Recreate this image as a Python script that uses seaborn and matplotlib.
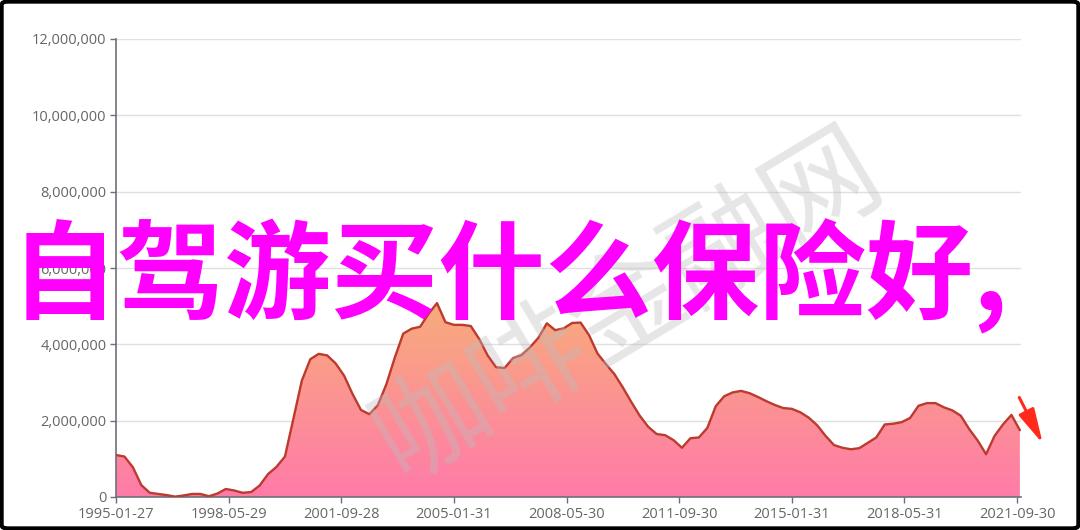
import numpy as np
import pandas as pd
import seaborn as sns
import matplotlib.pyplot as plt
from matplotlib.colors import LinearSegmentedColormap
from matplotlib.patches import FancyArrowPatch, FancyBboxPatch
from matplotlib.ticker import FuncFormatter

# values in millions, one per quarter starting 1995-01
values_m = [1.10, 1.06, 0.78, 0.31, 0.11, 0.08, 0.05, 0.01, 0.04, 0.08,
            0.08, 0.02, 0.09, 0.21, 0.17, 0.11, 0.13, 0.30, 0.60, 0.79,
            1.06, 2.05, 3.05, 3.61, 3.75, 3.71, 3.50, 3.18, 2.70, 2.28,
            2.17, 2.41, 2.95, 3.65, 4.28, 4.41, 4.46, 4.80, 5.08, 4.58,
            4.51, 4.51, 4.48, 4.14, 3.71, 3.40, 3.38, 3.64, 3.72, 3.92,
            4.17, 4.55, 4.37, 4.42, 4.56, 4.57, 4.24, 3.76, 3.48, 3.22,
            2.87, 2.49, 2.13, 1.84, 1.65, 1.62, 1.49, 1.29, 1.54, 1.56,
            1.81, 2.38, 2.64, 2.74, 2.78, 2.72, 2.62, 2.51, 2.41, 2.33,
            2.31, 2.22, 2.08, 1.88, 1.60, 1.36, 1.29, 1.25, 1.28, 1.42,
            1.56, 1.90, 1.92, 1.96, 2.07, 2.39, 2.46, 2.46, 2.35, 2.27,
            2.13, 1.78, 1.48, 1.12, 1.60, 1.90, 2.15, 1.75]

tick_labels = ['1995-01-27', '1998-05-29', '2001-09-28', '2005-01-31', '2008-05-30',
               '2011-09-30', '2015-01-31', '2018-05-31', '2021-09-30']
y_ticks = [0, 2000000, 4000000, 6000000, 8000000, 10000000, 12000000]

title_text = '自驾游买什么保险好,'
watermark = '咖啡金融网'

months = np.arange(len(values_m)) * 3
df = pd.DataFrame({'month': months, 'value': np.array(values_m) * 1e6})

sns.set_theme(style="white")
plt.rcParams['font.family'] = ['Open Sans', 'Noto Sans CJK SC', 'DejaVu Sans']

fig = plt.figure(figsize=(10.8, 5.3), dpi=100)
ax = fig.add_axes([116 / 1080, 1 - 497 / 530, (1021 - 116) / 1080, (497 - 39) / 530])

sns.lineplot(data=df, x='month', y='value', ax=ax, color='#BC3A2E', lw=1.7, zorder=4)

# gradient area under the line
fill = ax.fill_between(df['month'], df['value'], 0, facecolor='none', edgecolor='none')
grad = np.linspace(0, 1, 256).reshape(-1, 1)
cmap = LinearSegmentedColormap.from_list('area', ['#FF7BA9', '#F8AB7C'])
im = ax.imshow(grad, extent=[months[0], months[-1], 0, df['value'].max()],
               origin='lower', aspect='auto', cmap=cmap, zorder=2)
im.set_clip_path(fill.get_paths()[0], transform=ax.transData)

ax.set_xlim(0, 321.4)
ax.set_ylim(0, 12e6)
ax.set_xticks(np.arange(len(tick_labels)) * 40, tick_labels)
ax.set_yticks(y_ticks)
ax.yaxis.set_major_formatter(FuncFormatter(lambda v, p: f'{v:,.0f}'))
ax.set_xlabel('')
ax.set_ylabel('')

ax.yaxis.grid(True, color='#E0E0E0', lw=1)
ax.xaxis.grid(False)
ax.set_axisbelow(True)
for s in ['top', 'right']:
    ax.spines[s].set_visible(False)
for s in ['left', 'bottom']:
    ax.spines[s].set_color('#6E7079')
    ax.spines[s].set_linewidth(1.2)
ax.tick_params(axis='both', bottom=True, left=True, colors='#6E7079', labelcolor='#666666',
               labelsize=10.5, length=4, width=1, pad=3)

# overlays
fig.text(628 / 1080, 1 - 305 / 530, watermark, rotation=31, fontsize=82, color='#BDBDBD',
         alpha=0.38, ha='center', va='center', family=['Noto Sans CJK SC', 'DejaVu Sans'], zorder=5)
fig.text(11 / 1080, 1 - 276 / 530, title_text, color='#FF00FF', fontsize=77, fontweight='bold',
         ha='left', va='center', family=['Noto Sans CJK SC', 'DejaVu Sans'], zorder=10)

fig.add_artist(FancyArrowPatch((1018 / 1080, 1 - 395 / 530), (1044 / 1080, 1 - 446 / 530),
                               transform=fig.transFigure, arrowstyle='-|>,head_length=0.7,head_width=0.17',
                               color='#FF2A1A', lw=2.2, mutation_scale=30))
fig.add_artist(FancyBboxPatch((0.0015, 0.003), 0.997, 0.994, boxstyle='round,pad=0,rounding_size=0.006',
                              transform=fig.transFigure, fill=False, ec='black', lw=3))

fig.savefig('out.png', dpi=100)
